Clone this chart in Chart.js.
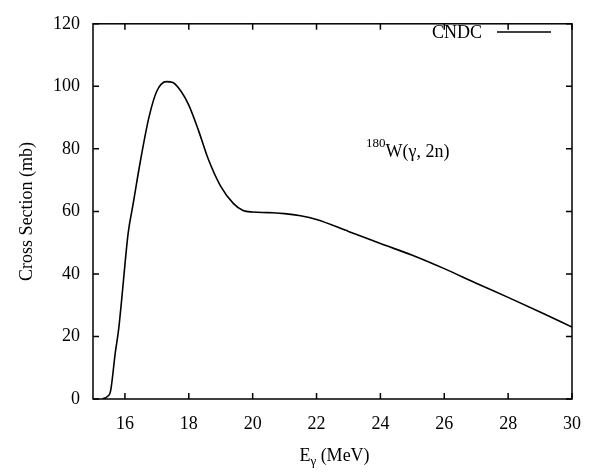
<!DOCTYPE html>
<html>
<head>
<meta charset="utf-8">
<script src="https://cdn.jsdelivr.net/npm/chart.js@4/dist/chart.umd.min.js"></script>
<style>
  html, body { margin: 0; padding: 0; background: #fff; }
  #wrap { width: 595px; height: 472px; }
</style>
</head>
<body>
<div id="wrap"><canvas id="c" width="595" height="472"></canvas></div>
<script>
const energy = [15.3,15.45,15.55,15.7,15.8,15.9,16.0,16.1,16.25,16.5,16.75,17.0,17.3,17.5,17.75,18.0,18.3,18.6,19.0,19.4,19.7,20.0,20.5,21.0,21.5,22.0,23.0,24.0,25.0,26.0,27.0,28.0,29.0,30.0];
const crossSection = [0,0.8,2.5,15,22,32,43,53,62,77,90,98.5,101.5,101.2,98.5,94,86,77,68,62.5,60.3,59.8,59.6,59.3,58.6,57.4,53.6,49.7,46,41.7,37,32.5,27.8,23];
const xTicks = [16,18,20,22,24,26,28,30];
const yTicks = [0,20,40,60,80,100,120];
const seriesLabel = 'CNDC';

const FONT = '"Liberation Serif", "DejaVu Serif", serif';

const decor = {
  id: 'decor',
  afterDraw(chart) {
    const ctx = chart.ctx;
    const a = chart.chartArea;
    const xs = chart.scales.x, ys = chart.scales.y;
    ctx.save();
    ctx.strokeStyle = '#000';
    ctx.lineWidth = 1.5;
    ctx.strokeRect(a.left, a.top, a.right - a.left, a.bottom - a.top);
    // inward ticks
    const tl = 6;
    ctx.beginPath();
    xTicks.forEach(v => {
      const px = xs.getPixelForValue(v);
      ctx.moveTo(px, a.bottom); ctx.lineTo(px, a.bottom - tl);
      ctx.moveTo(px, a.top); ctx.lineTo(px, a.top + tl);
    });
    yTicks.forEach(v => {
      const py = ys.getPixelForValue(v);
      ctx.moveTo(a.left, py); ctx.lineTo(a.left + tl, py);
      ctx.moveTo(a.right, py); ctx.lineTo(a.right - tl, py);
    });
    ctx.stroke();

    ctx.fillStyle = '#000';
    // y title
    ctx.save();
    ctx.translate(27, (a.top + a.bottom) / 2);
    ctx.rotate(-Math.PI / 2);
    ctx.font = '18px ' + FONT;
    ctx.textAlign = 'center';
    ctx.textBaseline = 'middle';
    ctx.fillText('Cross Section (mb)', 0, 0);
    ctx.restore();

    // x title: E_gamma (MeV)
    ctx.textBaseline = 'alphabetic';
    ctx.textAlign = 'left';
    const big = '18px ' + FONT, small = '13px ' + FONT;
    ctx.font = big; const wE = ctx.measureText('E').width;
    ctx.font = small; const wG = ctx.measureText('γ').width;
    ctx.font = big; const wM = ctx.measureText(' (MeV)').width;
    let x0 = (a.left + a.right) / 2 - (wE + wG + wM) / 2 + 2;
    const yb = 461;
    ctx.font = big; ctx.fillText('E', x0, yb);
    ctx.font = small; ctx.fillText('γ', x0 + wE, yb + 4);
    ctx.font = big; ctx.fillText(' (MeV)', x0 + wE + wG, yb);

    // annotation 180W(γ, 2n)
    ctx.font = '13px ' + FONT;
    ctx.fillText('180', 366, 147);
    const w180 = ctx.measureText('180').width;
    ctx.font = big;
    ctx.fillText('W(γ, 2n)', 366 + w180, 157);

    // legend
    ctx.font = big;
    ctx.textAlign = 'right';
    ctx.fillText(seriesLabel, 482, 38);
    ctx.beginPath();
    ctx.lineWidth = 1.5;
    ctx.moveTo(497, 32); ctx.lineTo(551, 32);
    ctx.stroke();
    ctx.restore();
  }
};

new Chart(document.getElementById('c'), {
  type: 'line',
  data: {
    datasets: [{
      label: seriesLabel,
      data: energy.map((e, i) => ({ x: e, y: crossSection[i] })),
      borderColor: '#000',
      borderWidth: 1.6,
      pointRadius: 0,
      fill: false,
      cubicInterpolationMode: 'monotone'
    }]
  },
  options: {
    responsive: false,
    animation: false,
    layout: { padding: { left: 0, right: 21, top: 15, bottom: 0 } },
    plugins: { legend: { display: false }, tooltip: { enabled: false } },
    scales: {
      x: {
        type: 'linear', min: 15, max: 30,
        afterBuildTicks: s => { s.ticks = xTicks.map(v => ({ value: v })); },
        afterFit: s => { s.height = 73; },
        grid: { display: false, drawTicks: false },
        border: { display: false },
        ticks: { padding: 14, color: '#000', font: { family: FONT, size: 18 }, maxRotation: 0 }
      },
      y: {
        type: 'linear', min: 0, max: 120,
        afterBuildTicks: s => { s.ticks = yTicks.map(v => ({ value: v })); },
        afterFit: s => { s.width = 93; },
        grid: { display: false, drawTicks: false },
        border: { display: false },
        ticks: { padding: 13, color: '#000', font: { family: FONT, size: 18 } }
      }
    }
  },
  plugins: [decor]
});
</script>
</body>
</html>
